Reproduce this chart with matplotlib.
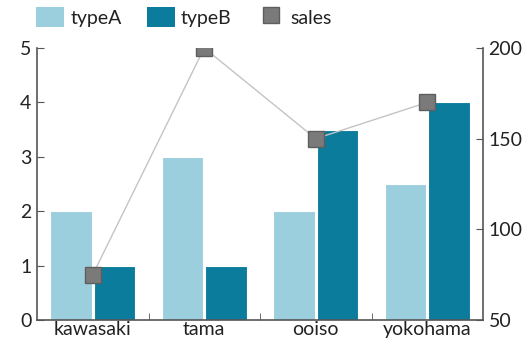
import matplotlib
matplotlib.use("Agg")
import matplotlib.pyplot as plt
import numpy as np
from matplotlib.patches import Patch
from matplotlib.lines import Line2D

categories = ["kawasaki", "tama", "ooiso", "yokohama"]
typeA = [2, 3, 2, 2.5]
typeB = [1, 1, 3.5, 4]
sales = [75, 200, 150, 170]

plt.rcParams['font.family'] = ['Lato', 'DejaVu Sans']
fig = plt.figure(figsize=(5.32, 3.44), dpi=100)
ax = fig.add_axes([37/532, 1 - 320/344, (483-37)/532, (320-48)/344])

x = np.arange(len(categories))
w = 0.37
colA = "#9ccfde"
colB = "#0b7c9c"
ax.bar(x - w/2 - 0.01, typeA, width=w, color=colA, edgecolor="white", linewidth=0.8)
ax.bar(x + w/2 + 0.01, typeB, width=w, color=colB, edgecolor="white", linewidth=0.8)
ax.set_xlim(-0.5, len(categories) - 0.5)
ax.set_ylim(0, 5)
ax.set_yticks(range(6))
ax.set_xticks(x)
ax.set_xticklabels(categories)
ax.set_xticks(np.arange(0.5, len(categories) - 0.5, 1), minor=True)
ax.tick_params(axis='x', which='major', length=0, labelsize=14, pad=1, colors="#222222")
ax.tick_params(axis='x', which='minor', direction='in', length=5, color="#555555")
ax.tick_params(axis='y', direction='in', length=5, labelsize=14, pad=4, color="#555555", labelcolor="#222222")
for s in ["top", "right"]:
    ax.spines[s].set_visible(False)
for s in ["left", "bottom"]:
    ax.spines[s].set_color("#555555")
    ax.spines[s].set_linewidth(1.2)

ax2 = ax.twinx()
ax2.set_ylim(50, 200)
ax2.set_yticks([50, 100, 150, 200])
ax2.plot(x, sales, color="#c4c4c4", linewidth=1, marker="s", markersize=12,
         markerfacecolor="#7a7a7a", markeredgecolor="#5e5e5e", markeredgewidth=1, zorder=5)
ax2.tick_params(axis='y', direction='in', length=5, labelsize=14, pad=4, color="#555555", labelcolor="#222222")
for s in ["top", "left", "bottom"]:
    ax2.spines[s].set_visible(False)
ax2.spines["right"].set_color("#555555")
ax2.spines["right"].set_linewidth(1.2)

handles = [Patch(facecolor=colA, label="typeA"), Patch(facecolor=colB, label="typeB"),
           Line2D([], [], marker="s", linestyle="none", markersize=12, markerfacecolor="#7a7a7a",
                  markeredgecolor="#5e5e5e", label="sales")]
fig.legend(handles=handles, loc="upper left", bbox_to_anchor=(0.035, 1.03), ncol=3, frameon=False,
           fontsize=14, handlelength=1.45, handleheight=1.2, handletextpad=0.3, columnspacing=1.3,
           labelcolor="#222222")

fig.savefig("out.png", dpi=100)
